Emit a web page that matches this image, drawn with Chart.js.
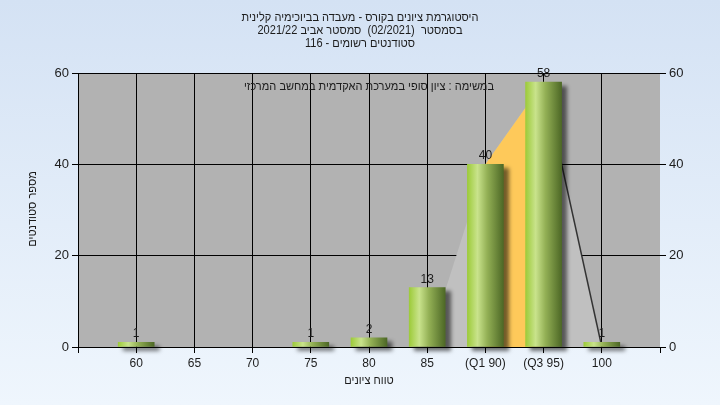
<!DOCTYPE html>
<html>
<head>
<meta charset="utf-8">
<script src="https://cdn.jsdelivr.net/npm/chart.js@4.4.0/dist/chart.umd.min.js"></script>
<style>
  html, body { margin: 0; padding: 0; }
  #wrap { width: 720px; height: 405px; }
</style>
</head>
<body>
<div id="wrap"><canvas id="chart1" width="720" height="405"></canvas></div>
<script>
// grade buckets (empty slots at both ends keep the frame wider than the bars)
const gradeLabels = ['', '60', '65', '70', '75', '80', '85', '(Q1 90)', '(Q3 95)', '100', ''];
const studentCounts = [null, 1, 0, 0, 1, 2, 13, 40, 58, 1, null];
// polygon behind the bars, the Q1-Q3 band and the closing line
const curveValues = [null, null, null, null, null, null, 0, 40, 58, 0, null];
const quartileValues = [null, null, null, null, null, null, null, 40, 58, null, null];
const tailValues = [null, null, null, null, null, null, null, null, 58, 0, null];
const yTicks = [0, 20, 40, 60];

const titleLines = [
  'היסטוגרמת ציונים בקורס - מעבדה בביוכימיה קלינית',
  'בסמסטר  (02/2021)  סמסטר אביב 2021/22',
  'סטודנטים רשומים - 116'
];
const taskText = 'במשימה : ציון סופי במערכת האקדמית במחשב המרכזי';
const xTitle = 'טווח ציונים';
const yTitle = 'מספר סטודנטים';

const FONT = '"Liberation Sans", "DejaVu Sans", sans-serif';
const textColor = '#1c1c1c';

// page gradient + grey plot box
const backdrop = {
  id: 'backdrop',
  beforeDraw(chart) {
    const ctx = chart.ctx, a = chart.chartArea;
    const g = ctx.createLinearGradient(0, 0, 0, chart.height);
    g.addColorStop(0, '#d4e2f4');
    g.addColorStop(1, '#eff6fd');
    ctx.save();
    ctx.fillStyle = g;
    ctx.fillRect(0, 0, chart.width, chart.height);
    ctx.fillStyle = '#b2b2b2';
    ctx.fillRect(a.left, a.top, a.right - a.left, a.bottom - a.top);
    ctx.restore();
  }
};

// soft drop shadow only for the bars
const barShadow = {
  id: 'barShadow',
  beforeDatasetDraw(chart, args) {
    if (args.meta.type !== 'bar') return;
    const ctx = chart.ctx;
    ctx.save();
    ctx.shadowColor = 'rgba(0,0,0,0.55)';
    ctx.shadowOffsetX = 5;
    ctx.shadowOffsetY = 4;
    ctx.shadowBlur = 4;
  },
  afterDatasetDraw(chart, args) {
    if (args.meta.type !== 'bar') return;
    chart.ctx.restore();
  }
};

// count above each bar
const valueLabels = {
  id: 'valueLabels',
  afterDatasetsDraw(chart) {
    const ctx = chart.ctx;
    chart.data.datasets.forEach((ds, i) => {
      if (ds.type !== 'bar') return;
      const meta = chart.getDatasetMeta(i);
      ctx.save();
      ctx.font = '12px ' + FONT;
      ctx.fillStyle = textColor;
      ctx.textAlign = 'center';
      ctx.textBaseline = 'alphabetic';
      meta.data.forEach((el, j) => {
        const v = ds.data[j];
        if (!v) return;
        ctx.fillText(String(v), el.x, el.y - 5);
      });
      ctx.restore();
    });
  }
};

// hebrew text is a bit narrower in the original, squeeze it horizontally
function squeezed(ctx, text, x, y, rot) {
  ctx.save();
  ctx.translate(x, y);
  if (rot) ctx.rotate(rot);
  ctx.scale(0.92, 1);
  ctx.fillText(text, 0, 0);
  ctx.restore();
}

// header, note and axis titles
const texts = {
  id: 'texts',
  afterDraw(chart) {
    const ctx = chart.ctx, a = chart.chartArea;
    const mid = (a.left + a.right) / 2;
    ctx.save();
    ctx.fillStyle = textColor;
    ctx.direction = 'rtl';
    ctx.textAlign = 'center';
    ctx.textBaseline = 'middle';
    ctx.font = '12px ' + FONT;
    titleLines.forEach((t, i) => squeezed(ctx, t, 360, 18 + i * 13));
    squeezed(ctx, taskText, mid, 87);
    squeezed(ctx, xTitle, mid, 381);
    squeezed(ctx, yTitle, 33, 209, -Math.PI / 2);
    ctx.restore();
  }
};

function barFill(c) {
  if (!c.raw) return 'rgba(0,0,0,0)';
  const chart = c.chart;
  const xs = chart.scales.x;
  if (!xs || c.dataIndex === undefined) return '#9ccb3c';
  const cx = xs.getPixelForValue(c.dataIndex);
  if (!isFinite(cx)) return '#9ccb3c';
  const g = chart.ctx.createLinearGradient(cx - 18, 0, cx + 18, 0);
  g.addColorStop(0, '#9dcb3a');
  g.addColorStop(0.28, '#c9e38c');
  g.addColorStop(0.55, '#93b055');
  g.addColorStop(1, '#4d6826');
  return g;
}

const ctx = document.getElementById('chart1').getContext('2d');
new Chart(ctx, {
  type: 'bar',
  data: {
    labels: gradeLabels,
    datasets: [
      {
        type: 'bar',
        data: studentCounts,
        backgroundColor: barFill,
        borderWidth: 0,
        barThickness: 36,
        clip: false,
        order: 0
      },
      {
        type: 'line',
        data: tailValues,
        borderColor: '#333333',
        borderWidth: 1.5,
        pointRadius: 0,
        fill: false,
        tension: 0,
        order: 1
      },
      {
        type: 'line',
        data: quartileValues,
        borderWidth: 0,
        backgroundColor: '#fec95a',
        pointRadius: 0,
        fill: 'origin',
        tension: 0,
        order: 2
      },
      {
        type: 'line',
        data: curveValues,
        borderWidth: 0,
        backgroundColor: '#c0c0c0',
        pointRadius: 0,
        fill: 'origin',
        tension: 0,
        order: 3
      }
    ]
  },
  options: {
    responsive: false,
    animation: false,
    devicePixelRatio: 1,
    layout: { padding: { top: 73, left: 0, right: 0, bottom: 0 } },
    plugins: {
      legend: { display: false },
      tooltip: { enabled: false },
      title: { display: false }
    },
    scales: {
      x: {
        offset: false,
        grid: {
          offset: false,
          color: c => (c.index === gradeLabels.length - 1 ? 'rgba(0,0,0,0)' : '#000'),
          tickColor: '#000',
          tickLength: 6,
          lineWidth: 1
        },
        border: { color: '#000' },
        ticks: {
          color: textColor,
          font: { family: FONT, size: 12 },
          padding: 3,
          autoSkip: false,
          maxRotation: 0
        },
        afterFit: s => { s.height = 58; }
      },
      y: {
        position: 'left',
        min: 0,
        max: 60,
        afterBuildTicks: s => { s.ticks = yTicks.map(v => ({ value: v })); },
        grid: { color: '#000', tickLength: 6 },
        border: { color: '#000' },
        ticks: { color: textColor, font: { family: FONT, size: 13 }, padding: 3 },
        afterFit: s => { s.width = 78; }
      },
      y2: {
        position: 'right',
        min: 0,
        max: 60,
        afterBuildTicks: s => { s.ticks = yTicks.map(v => ({ value: v })); },
        grid: { drawOnChartArea: false, color: '#000', tickLength: 6 },
        border: { display: false },
        ticks: { color: textColor, font: { family: FONT, size: 13 }, padding: 3 },
        afterFit: s => { s.width = 60; }
      }
    }
  },
  plugins: [backdrop, barShadow, valueLabels, texts]
});
</script>
</body>
</html>
